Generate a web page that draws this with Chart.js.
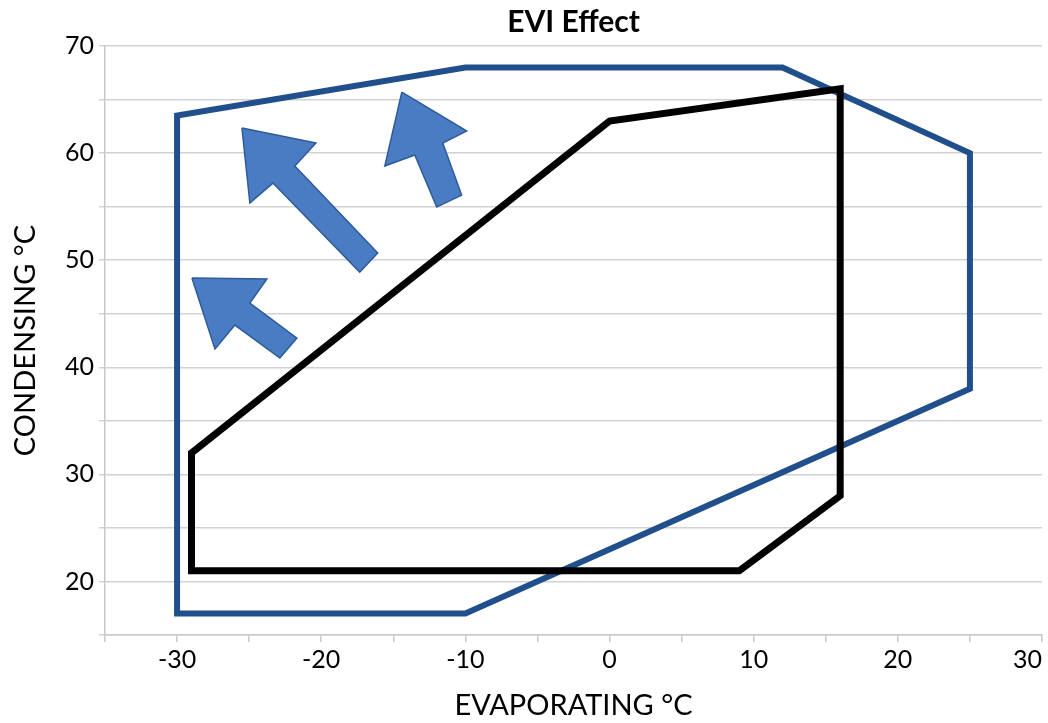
<!DOCTYPE html>
<html><head><meta charset="utf-8">
<script src="https://cdn.jsdelivr.net/npm/chart.js@4"></script>
<style>html,body{margin:0;padding:0;background:#fff}</style>
</head><body>
<canvas id="c" width="1048" height="723"></canvas>
<script>
// Operating envelope WITH EVI (blue)
const withEviEvap = [-30, -30, -10, 12, 25, 25, -10, -30];
const withEviCond = [17, 63.5, 68, 68, 60, 38, 17, 17];
// Operating envelope WITHOUT EVI (black)
const noEviEvap = [-29, -29, 0, 16, 16, 9, -29];
const noEviCond = [21, 32, 63, 66, 28, 21, 21];
// Arrow annotations (data coordinates)
const arrowBigEvap = [-25.5, -20.37, -21.83, -16.08, -17.33, -23.35, -24.95, -25.5];
const arrowBigCond = [62.34, 60.94, 58.79, 50.67, 48.89, 57.2, 55.34, 62.34];
const arrowTopEvap = [-14.41, -9.91, -11.57, -10.26, -11.99, -13.51, -15.59, -14.41];
const arrowTopCond = [65.7, 62.06, 60.94, 56.08, 54.96, 59.82, 58.79, 65.7];
const arrowLowEvap = [-28.97, -23.77, -24.95, -21.69, -22.87, -25.99, -27.37, -28.97];
const arrowLowCond = [48.33, 48.24, 46.0, 42.73, 40.86, 43.94, 41.7, 48.33];
// Axis ticks
const xTicks = [-35, 30, 5];
const yTicks = [15, 70, 5];

const pts = (xs, ys) => xs.map((x, i) => ({x: x, y: ys[i]}));
const arrowDs = (xs, ys) => ({
  data: pts(xs, ys), showLine: true, fill: 'shape', tension: 0, pointRadius: 0,
  backgroundColor: '#4a7cc4', borderColor: '#2e5b9a', borderWidth: 1.5, order: 3
});
const labelEvery10 = v => (v % 10 === 0 ? v : '');

function draw() {
  new Chart(document.getElementById('c'), {
    type: 'scatter',
    data: {
      datasets: [
        {data: pts(noEviEvap, noEviCond), showLine: true, fill: false, tension: 0, pointRadius: 0,
         borderColor: '#000000', borderWidth: 7, borderJoinStyle: 'miter', borderCapStyle: 'square', order: 0},
        {data: pts(withEviEvap, withEviCond), showLine: true, fill: false, tension: 0, pointRadius: 0,
         borderColor: '#204f8c', borderWidth: 6, borderJoinStyle: 'miter', borderCapStyle: 'square', order: 1},
        arrowDs(arrowBigEvap, arrowBigCond),
        arrowDs(arrowTopEvap, arrowTopCond),
        arrowDs(arrowLowEvap, arrowLowCond)
      ]
    },
    options: {
      responsive: false,
      animation: false,
      layout: {padding: {left: 0, right: 6, top: 0, bottom: 0}},
      plugins: {
        legend: {display: false},
        tooltip: {enabled: false},
        title: {display: true, text: 'EVI Effect', color: '#000', fullSize: false,
                font: {family: 'Lato', size: 30, weight: 'bold'}, padding: {top: 4, bottom: 6}}
      },
      scales: {
        x: {
          type: 'linear', min: xTicks[0], max: xTicks[1],
          ticks: {stepSize: xTicks[2], callback: labelEvery10, color: '#000', align: 'inner',
                  font: {family: 'Lato', size: 25}, padding: 3, maxRotation: 0, autoSkip: false},
          grid: {drawOnChartArea: false, drawTicks: true, tickLength: 7, tickColor: '#c8c8c8', lineWidth: 1.5},
          border: {color: '#c8c8c8', width: 1.5},
          title: {display: true, text: 'EVAPORATING °C', color: '#000',
                  font: {family: 'Lato', size: 29}, padding: {top: 0, bottom: 0}},
          afterFit: s => { s.height = 88; s.paddingLeft = 0; s.paddingRight = 0; }
        },
        y: {
          type: 'linear', min: yTicks[0], max: yTicks[1],
          ticks: {stepSize: yTicks[2], callback: labelEvery10, color: '#000',
                  font: {family: 'Lato', size: 25}, padding: 5, autoSkip: false},
          grid: {color: '#d2d2d2', lineWidth: 1.5, tickLength: 6, tickColor: '#d2d2d2'},
          border: {color: '#c8c8c8', width: 1.5},
          title: {display: true, text: 'CONDENSING °C', color: '#000',
                  font: {family: 'Lato', size: 29}, padding: {top: 8, bottom: 0}},
          afterFit: s => { s.width = 105; s.paddingTop = 0; s.paddingBottom = 0; }
        }
      }
    }
  });
}
if (document.fonts && document.fonts.load) {
  Promise.all([document.fonts.load('25px Lato'), document.fonts.load('bold 30px Lato')]).then(draw, draw);
} else { draw(); }
</script>
</body></html>
